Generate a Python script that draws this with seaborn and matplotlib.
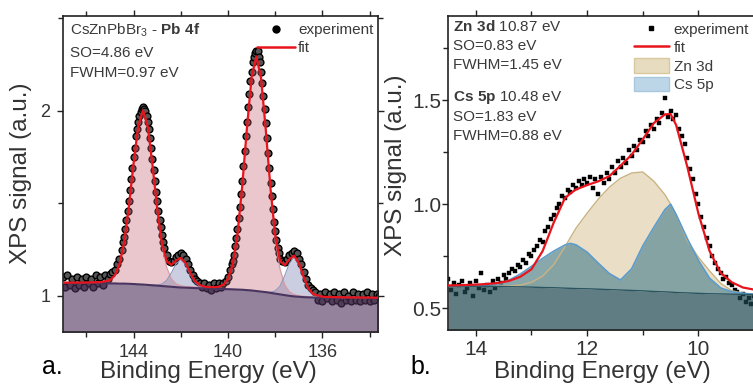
import matplotlib
matplotlib.use("Agg")
import matplotlib.pyplot as plt
import seaborn as sns
from matplotlib.lines import Line2D
from matplotlib.patches import Patch
from matplotlib.ticker import MultipleLocator, FormatStrFormatter

# ---------------- panel a: Pb 4f ----------------
# energy grid for fitted curves (eV)
pb_energy = [147.0, 146.0, 145.4, 145.0, 144.8, 144.6, 144.4, 144.2, 144.0, 143.8,
             143.6, 143.4, 143.2, 143.0, 142.8, 142.6, 142.4, 142.2, 142.0, 141.8,
             141.6, 141.4, 141.2, 141.0, 140.8, 140.6, 140.4, 140.2, 140.0, 139.8,
             139.6, 139.4, 139.2, 139.0, 138.8, 138.6, 138.4, 138.2, 138.0, 137.8,
             137.6, 137.4, 137.2, 137.0, 136.8, 136.6, 136.4, 136.0, 135.0, 133.6]
pb_background = [1.070, 1.069, 1.068, 1.067, 1.067, 1.066, 1.066, 1.065, 1.064, 1.062,
                 1.061, 1.059, 1.057, 1.055, 1.053, 1.051, 1.049, 1.047, 1.045, 1.044,
                 1.043, 1.042, 1.041, 1.041, 1.040, 1.039, 1.038, 1.037, 1.036, 1.035,
                 1.034, 1.033, 1.031, 1.029, 1.026, 1.023, 1.020, 1.016, 1.012, 1.008,
                 1.004, 1.000, 0.997, 0.995, 0.993, 0.992, 0.991, 0.990, 0.990, 0.989]
pb_main = [1.071, 1.072, 1.074, 1.084, 1.109, 1.169, 1.288, 1.480, 1.714, 1.918,
           2.002, 1.915, 1.707, 1.470, 1.276, 1.155, 1.092, 1.065, 1.055, 1.051,
           1.050, 1.048, 1.048, 1.047, 1.047, 1.047, 1.049, 1.060, 1.093, 1.173,
           1.332, 1.591, 1.905, 2.181, 2.292, 2.174, 1.893, 1.573, 1.309, 1.145,
           1.060, 1.022, 1.007, 1.001, 0.998, 0.996, 0.995, 0.993, 0.992, 0.990]
pb_minor = [1.070, 1.069, 1.068, 1.067, 1.067, 1.066, 1.066, 1.065, 1.064, 1.062,
            1.061, 1.059, 1.058, 1.058, 1.064, 1.083, 1.124, 1.173, 1.195, 1.170,
            1.118, 1.074, 1.052, 1.044, 1.041, 1.039, 1.038, 1.037, 1.036, 1.035,
            1.034, 1.033, 1.031, 1.029, 1.026, 1.023, 1.021, 1.020, 1.027, 1.052,
            1.109, 1.176, 1.207, 1.171, 1.098, 1.036, 1.006, 0.992, 0.990, 0.989]
pb_fit = [1.071, 1.072, 1.074, 1.084, 1.109, 1.169, 1.288, 1.480, 1.714, 1.918,
          2.002, 1.915, 1.708, 1.473, 1.287, 1.187, 1.167, 1.191, 1.205, 1.177,
          1.125, 1.080, 1.059, 1.050, 1.048, 1.047, 1.049, 1.060, 1.093, 1.173,
          1.332, 1.591, 1.905, 2.181, 2.292, 2.174, 1.894, 1.577, 1.324, 1.189,
          1.165, 1.198, 1.217, 1.177, 1.103, 1.040, 1.010, 0.995, 0.992, 0.990]

pb_exp_energy = [147.0, 146.9, 146.8, 146.7, 146.6, 146.5, 146.4, 146.3, 146.2, 146.1,
                 146.0, 145.9, 145.8, 145.7, 145.6, 145.5, 145.4, 145.3, 145.2, 145.1,
                 145.0, 144.9, 144.8, 144.7, 144.6, 144.5,
                 144.45, 144.40, 144.35, 144.30, 144.25, 144.20, 144.15, 144.10, 144.05, 144.00,
                 143.95, 143.90, 143.85, 143.80, 143.75, 143.70, 143.65, 143.60, 143.55, 143.50,
                 143.45, 143.40, 143.35, 143.30, 143.25, 143.20, 143.15, 143.10, 143.05, 143.00,
                 142.95, 142.90, 142.85, 142.80, 142.75, 142.70,
                 142.6, 142.5, 142.4, 142.3, 142.2, 142.1, 142.0, 141.9, 141.8, 141.7,
                 141.6, 141.5, 141.4, 141.3, 141.2, 141.1, 141.0, 140.9, 140.8, 140.7,
                 140.6, 140.5, 140.4, 140.3, 140.2, 140.1, 140.0, 139.9,
                 139.85, 139.80, 139.75, 139.70, 139.65, 139.60, 139.55, 139.50, 139.45, 139.40,
                 139.35, 139.30, 139.25, 139.20, 139.15, 139.10, 139.05, 139.00, 138.95, 138.90,
                 138.85, 138.80, 138.75, 138.70, 138.65, 138.60, 138.55, 138.50, 138.45, 138.40,
                 138.35, 138.30, 138.25, 138.20, 138.15, 138.10, 138.05, 138.00, 137.95, 137.90,
                 137.85, 137.80,
                 137.7, 137.6, 137.5, 137.4, 137.3, 137.2, 137.1, 137.0, 136.9, 136.8,
                 136.7, 136.6, 136.5, 136.4, 136.3, 136.2, 136.1, 136.0, 135.9, 135.8,
                 135.7, 135.6, 135.5, 135.4, 135.3, 135.2, 135.1, 135.0, 134.9, 134.8,
                 134.7, 134.6, 134.5, 134.4, 134.3, 134.2, 134.1, 134.0, 133.9, 133.8,
                 133.7, 133.6]
pb_exp = [1.10, 1.05, 1.11, 1.06, 1.09, 1.04, 1.10, 1.06, 1.09, 1.05,
          1.10, 1.07, 1.09, 1.05, 1.11, 1.07, 1.10, 1.06, 1.11, 1.09,
          1.12, 1.13, 1.14, 1.17, 1.20, 1.25,
          1.29, 1.32, 1.36, 1.41, 1.46, 1.51, 1.57, 1.63, 1.69, 1.75,
          1.80, 1.86, 1.90, 1.94, 1.97, 1.99, 2.01, 2.02, 2.01, 2.00,
          1.97, 1.94, 1.90, 1.85, 1.80, 1.74, 1.68, 1.62, 1.56, 1.51,
          1.46, 1.41, 1.37, 1.33, 1.29, 1.26,
          1.22, 1.19, 1.18, 1.19, 1.21, 1.22, 1.23, 1.22, 1.20, 1.17,
          1.14, 1.11, 1.09, 1.08, 1.07, 1.05, 1.07, 1.04, 1.06, 1.03,
          1.07, 1.04, 1.07, 1.05, 1.07, 1.08, 1.10, 1.14,
          1.17, 1.19, 1.22, 1.27, 1.31, 1.36, 1.42, 1.48, 1.55, 1.62,
          1.70, 1.78, 1.86, 1.94, 2.02, 2.09, 2.16, 2.21, 2.26, 2.29,
          2.31, 2.32, 2.32, 2.29, 2.26, 2.21, 2.15, 2.08, 2.01, 1.93,
          1.85, 1.77, 1.69, 1.61, 1.54, 1.47, 1.40, 1.35, 1.30, 1.26,
          1.23, 1.20,
          1.19, 1.18, 1.20, 1.22, 1.23, 1.24, 1.23, 1.20, 1.17, 1.13,
          1.09, 1.06, 1.04, 1.03, 1.02, 0.98, 1.01, 0.97, 1.02, 0.99,
          1.01, 0.97, 1.02, 0.98, 1.01, 0.96, 1.02, 0.98, 1.00, 0.97,
          1.02, 0.98, 1.01, 0.97, 1.01, 0.98, 1.02, 0.97, 1.01, 0.98,
          1.01, 1.00]

# ---------------- panel b: Zn 3d / Cs 5p ----------------
vb_energy = [14.5, 14.2, 14.0, 13.8, 13.6, 13.4, 13.2, 13.0, 12.8, 12.6,
             12.4, 12.3, 12.2, 12.0, 11.8, 11.6, 11.4, 11.2, 11.0, 10.8,
             10.6, 10.5, 10.4, 10.2, 10.0, 9.8, 9.6, 9.4, 9.2, 9.0, 8.84]
vb_background = [0.607, 0.607, 0.606, 0.606, 0.605, 0.604, 0.603, 0.602, 0.600, 0.599,
                 0.597, 0.596, 0.595, 0.594, 0.592, 0.590, 0.588, 0.586, 0.584, 0.581,
                 0.579, 0.578, 0.576, 0.574, 0.572, 0.570, 0.569, 0.568, 0.567, 0.566, 0.566]
zn3d = [0.607, 0.607, 0.607, 0.606, 0.606, 0.607, 0.612, 0.625, 0.655, 0.710,
        0.795, 0.840, 0.885, 0.957, 1.025, 1.082, 1.125, 1.150, 1.155, 1.110,
        1.045, 1.000, 0.950, 0.825, 0.745, 0.680, 0.620, 0.585, 0.572, 0.568, 0.566]
cs5p = [0.607, 0.607, 0.607, 0.609, 0.618, 0.636, 0.665, 0.702, 0.740, 0.775,
        0.804, 0.812, 0.805, 0.770, 0.717, 0.667, 0.636, 0.690, 0.800, 0.890,
        0.975, 1.000, 0.950, 0.835, 0.730, 0.645, 0.598, 0.580, 0.572, 0.568, 0.566]
vb_fit = [0.610, 0.612, 0.614, 0.617, 0.622, 0.632, 0.652, 0.688, 0.775, 0.912,
          1.029, 1.052, 1.071, 1.092, 1.110, 1.135, 1.185, 1.238, 1.312, 1.390,
          1.432, 1.433, 1.380, 1.180, 0.955, 0.775, 0.670, 0.625, 0.600, 0.590, 0.585]

vb_exp_energy = [14.50, 14.45, 14.40, 14.35, 14.30, 14.25, 14.20, 14.15, 14.10, 14.05,
                 14.00, 13.95, 13.90, 13.85, 13.80, 13.75, 13.70, 13.65, 13.60, 13.55,
                 13.50, 13.45, 13.40, 13.35, 13.30, 13.25, 13.20, 13.15, 13.10, 13.05,
                 13.00, 12.95, 12.90, 12.85, 12.80, 12.75, 12.70, 12.65, 12.60, 12.55,
                 12.50, 12.45, 12.40, 12.35, 12.30, 12.25, 12.20, 12.15, 12.10, 12.05,
                 12.00, 11.95, 11.90, 11.85, 11.80, 11.75, 11.70, 11.65, 11.60, 11.55,
                 11.50, 11.45, 11.40, 11.35, 11.30, 11.25, 11.20, 11.15, 11.10, 11.05,
                 11.00, 10.95, 10.90, 10.85, 10.80, 10.75, 10.70, 10.65, 10.60, 10.55,
                 10.50, 10.45, 10.40, 10.35, 10.30, 10.25, 10.20, 10.15, 10.10, 10.05,
                 10.00, 9.95, 9.90, 9.85, 9.80, 9.75, 9.70, 9.65, 9.60, 9.55,
                 9.50, 9.45, 9.40, 9.35, 9.30, 9.25, 9.20, 9.15, 9.10, 9.05,
                 9.00, 8.95, 8.90, 8.85]
vb_exp = [0.64, 0.59, 0.62, 0.57, 0.61, 0.63, 0.58, 0.60, 0.62, 0.56,
          0.63, 0.60, 0.67, 0.59, 0.61, 0.58, 0.63, 0.60, 0.64, 0.62,
          0.66, 0.64, 0.67, 0.69, 0.68, 0.71, 0.70, 0.73, 0.72, 0.76,
          0.75, 0.78, 0.80, 0.83, 0.82, 0.87, 0.89, 0.93, 0.95, 0.98,
          1.00, 1.04, 1.03, 1.07, 1.06, 1.09, 1.08, 1.11, 1.09, 1.12,
          1.10, 1.13, 1.08, 1.12, 1.05, 1.13, 1.10, 1.15, 1.12, 1.18,
          1.15, 1.21, 1.18, 1.22, 1.20, 1.26, 1.23, 1.28, 1.26, 1.31,
          1.30, 1.35, 1.33, 1.38, 1.36, 1.41, 1.39, 1.44, 1.51, 1.42,
          1.45, 1.41, 1.43, 1.36, 1.33, 1.29, 1.22, 1.17, 1.12, 1.05,
          1.00, 0.94, 0.89, 0.84, 0.80, 0.75, 0.72, 0.69, 0.67, 0.64,
          0.65, 0.62, 0.61, 0.59, 0.58, 0.55, 0.57, 0.53, 0.55, 0.52,
          0.56, 0.54, 0.57, 0.55]

sns.set_theme(style="ticks")
plt.rcParams['font.family'] = ['Liberation Sans', 'DejaVu Sans']
plt.rcParams['mathtext.fontset'] = 'custom'
plt.rcParams['mathtext.rm'] = 'Liberation Sans'
plt.rcParams['mathtext.bf'] = 'Liberation Sans:bold'

W, H = 753, 384
fig = plt.figure(figsize=(W / 100, H / 100), dpi=100)
axL = fig.add_axes([62.7 / W, 52 / H, 315.3 / W, 316 / H])
axR = fig.add_axes([448 / W, 54 / H, 315 / W, 314 / H])

text_col = '#3a3a3a'
red = '#e8141c'

# --- panel a ---
sns.scatterplot(x=pb_exp_energy, y=pb_exp, ax=axL, marker='o', s=24, color='#555555',
                edgecolor='black', linewidth=1.0, legend=False, zorder=1)
axL.fill_between(pb_energy, 0, pb_background, color='#4d2d59', alpha=0.6, lw=0, zorder=2)
axL.fill_between(pb_energy, pb_background, pb_main, color='#c0606f', alpha=0.35, lw=0, zorder=3)
axL.fill_between(pb_energy, pb_background, pb_minor, color='#6a74a8', alpha=0.35, lw=0, zorder=3)
sns.lineplot(x=pb_energy, y=pb_main, ax=axL, color='#d89aa5', lw=0.8, zorder=4)
sns.lineplot(x=pb_energy, y=pb_minor, ax=axL, color='#8f95bd', lw=0.8, zorder=4)
sns.lineplot(x=pb_energy, y=pb_background, ax=axL, color='#4a3560', lw=1.5, zorder=4)
sns.lineplot(x=pb_energy, y=pb_fit, ax=axL, color=red, lw=1.6, zorder=6)

axL.set_xlim(147.0, 133.65)
axL.set_ylim(0.805, 2.51)
axL.xaxis.set_major_locator(MultipleLocator(4))
axL.xaxis.set_minor_locator(MultipleLocator(2))
axL.yaxis.set_major_locator(MultipleLocator(1))
axL.yaxis.set_minor_locator(MultipleLocator(0.5))

axL.text(0.023, 0.956, r"CsZnPbBr$_3$ - $\mathbf{Pb\ 4f}$", transform=axL.transAxes,
         fontsize=11, color=text_col, va='center', ha='left')
axL.text(0.023, 0.883, "SO=4.86 eV", transform=axL.transAxes,
         fontsize=11, color=text_col, va='center', ha='left')
axL.text(0.023, 0.820, "FWHM=0.97 eV", transform=axL.transAxes,
         fontsize=11, color=text_col, va='center', ha='left')

handlesL = [Line2D([], [], marker='o', ls='none', color='black', markersize=5),
            Line2D([], [], color=red, lw=1.8)]
legL = axL.legend(handlesL, ['experiment', 'fit'], loc='upper left',
                  bbox_to_anchor=(0.616, 0.977), frameon=False, fontsize=11,
                  borderpad=0, borderaxespad=0, handlelength=2.5, handletextpad=0.2,
                  labelspacing=0.25)
for t in legL.get_texts():
    t.set_color(text_col)

# --- panel b ---
sns.scatterplot(x=vb_exp_energy, y=vb_exp, ax=axR, marker='s', s=8, color='black',
                edgecolor='black', linewidth=0.3, legend=False, zorder=1)
axR.fill_between(vb_energy, 0, vb_background, color='#1e4650', alpha=0.7, lw=0, zorder=2)
axR.fill_between(vb_energy, vb_background, zn3d, color='#e8dcc0', alpha=0.9, lw=0, zorder=3)
axR.fill_between(vb_energy, vb_background, cs5p, color='#75999d', alpha=0.85, lw=0, zorder=4)
sns.lineplot(x=vb_energy, y=zn3d, ax=axR, color='#c9b382', lw=1.0, zorder=4)
sns.lineplot(x=vb_energy, y=cs5p, ax=axR, color='#5b9ccc', lw=1.2, zorder=5)
sns.lineplot(x=vb_energy, y=vb_background, ax=axR, color='#2b5560', lw=1.0, zorder=5)
sns.lineplot(x=vb_energy, y=vb_fit, ax=axR, color=red, lw=1.6, zorder=6)

axR.set_xlim(14.5, 8.84)
axR.set_ylim(0.396, 1.904)
axR.xaxis.set_major_locator(MultipleLocator(2))
axR.xaxis.set_minor_locator(MultipleLocator(1))
axR.yaxis.set_major_locator(MultipleLocator(0.5))
axR.yaxis.set_minor_locator(MultipleLocator(0.25))
axR.yaxis.set_major_formatter(FormatStrFormatter('%.1f'))

notes = [(0.965, r"$\mathbf{Zn\ 3d}$ 10.87 eV"), (0.904, "SO=0.83 eV"), (0.844, "FWHM=1.45 eV"),
         (0.739, r"$\mathbf{Cs\ 5p}$ 10.48 eV"), (0.678, "SO=1.83 eV"), (0.618, "FWHM=0.88 eV")]
for yy, s in notes:
    axR.text(0.015, yy, s, transform=axR.transAxes, fontsize=11, color=text_col,
             va='center', ha='left')

handlesR = [Line2D([], [], marker='s', ls='none', color='black', markersize=3),
            Line2D([], [], color=red, lw=1.8),
            Patch(facecolor='#e8dcc0', edgecolor='#d8c8a0'),
            Patch(facecolor='#bcd6e8', edgecolor='#a8c8e0')]
legR = axR.legend(handlesR, ['experiment', 'fit', 'Zn 3d', 'Cs 5p'], loc='upper left',
                  bbox_to_anchor=(0.590, 0.982), frameon=False, fontsize=11,
                  borderpad=0, borderaxespad=0, handlelength=2.3, handleheight=1.05,
                  handletextpad=0.3, labelspacing=0.2)
for t in legR.get_texts():
    t.set_color(text_col)

# --- common axis styling ---
for ax in (axL, axR):
    for sp in ax.spines.values():
        sp.set_visible(True)
        sp.set_color('#222222')
        sp.set_linewidth(1.2)
    ax.tick_params(which='both', direction='out', top=True, right=True,
                   labeltop=False, labelright=False, colors='#222222',
                   labelcolor='#333333', width=1.0)
    ax.tick_params(which='major', length=4.5)
    ax.tick_params(which='minor', length=3.5)
    ax.set_xlabel('Binding Energy (eV)', fontsize=17.5, color='#333333')
    ax.set_ylabel('XPS signal (a.u.)', fontsize=17.5, color='#333333')
    ax.xaxis.label.set_va('center')
    ax.yaxis.label.set_va('center')

axL.tick_params(axis='both', which='major', labelsize=13)
axL.tick_params(axis='x', which='major', pad=4)
axL.tick_params(axis='y', which='major', pad=4.5)
axR.tick_params(axis='both', which='major', labelsize=15)
axR.tick_params(axis='x', which='major', pad=3)
axR.tick_params(axis='y', which='major', pad=0.5)

axL.xaxis.set_label_coords(0.462, -0.127)
axR.xaxis.set_label_coords(0.489, -0.134)
axL.yaxis.set_label_coords(-0.132, 0.503)
axR.yaxis.set_label_coords(-0.165, 0.525)

fig.text(52 / W, 1 - 367 / H, 'a.', fontsize=18, color='black', ha='center', va='center')
fig.text(421 / W, 1 - 367 / H, 'b.', fontsize=18, color='black', ha='center', va='center')

fig.savefig('out.png', dpi=100)
